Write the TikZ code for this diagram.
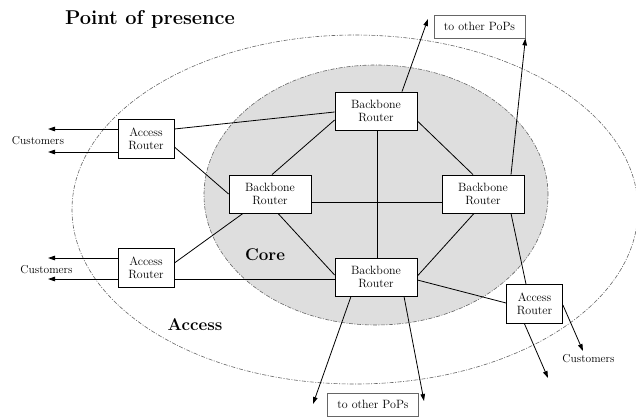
\documentclass[tikz,border=0pt]{standalone}
\usetikzlibrary{arrows.meta}
\begin{document}
\begin{tikzpicture}[x=1pt,y=-1pt,
  router/.style={draw=black,line width=0.8pt,fill=white,align=center,
    font=\fontsize{12}{13}\selectfont,inner sep=0pt},
  backbone/.style={router,minimum width=82pt,minimum height=38pt},
  access/.style={router,minimum width=56pt,minimum height=39pt},
  popbox/.style={router,draw=black!60,minimum width=91pt,minimum height=23pt},
  link/.style={line width=0.8pt},
  uplink/.style={line width=0.8pt,-{Triangle[length=7pt,width=4.5pt]}},
  caption/.style={font=\fontsize{11.5}{13}\selectfont},
  zone/.style={draw=black!60,line width=0.6pt,dash pattern=on 4pt off 1.5pt on 1pt off 1.5pt},
  area/.style={font=\fontsize{17}{20}\selectfont\bfseries}
]
\useasboundingbox (0,0) rectangle (636,418);
\fill[white] (0,0) rectangle (636,418);

% regions
\draw[zone] (355,209.5) ellipse [x radius=283pt, y radius=174.5pt];
\draw[zone,fill=black!13] (376,195) ellipse [x radius=172pt, y radius=130pt];

% region labels
\node[font=\fontsize{20}{24}\selectfont\bfseries] (title) at (150,19) {Point of presence};
\node[area] (core) at (265,255) {Core};
\node[area] (access) at (195,325) {Access};

% routers
\node[backbone] (bbT) at (376,111) {Backbone\\Router};
\node[backbone] (bbL) at (270,194) {Backbone\\Router};
\node[backbone] (bbR) at (483,194) {Backbone\\Router};
\node[backbone] (bbB) at (376,277) {Backbone\\Router};
\node[access] (arTL) at (146,138.5) {Access\\Router};
\node[access] (arBL) at (146,267.5) {Access\\Router};
\node[access] (arBR) at (534.5,304) {Access\\Router};

% external destinations
\node[popbox] (popT) at (479.5,26.5) {to other PoPs};
\node[popbox] (popB) at (373,404.5) {to other PoPs};
\node[caption] (custTL) at (38,141) {Customers};
\node[caption] (custBL) at (46.5,270) {Customers};
\node[caption] (custBR) at (588.5,359) {Customers};

% free ends of the outgoing arrows
\coordinate (tTL1) at (48,129);
\coordinate (tTL2) at (48,152);
\coordinate (tBL1) at (48,258);
\coordinate (tBL2) at (48,279);
\coordinate (tBR1) at (583,351);
\coordinate (tBR2) at (548,378);
\coordinate (tB1) at (313,404);
\coordinate (tB2) at (424,401);
\coordinate (tT1) at (428,19);

% core mesh
\draw[link] ([xshift=2pt]bbL.north) -- ([yshift=-9pt]bbT.west);
\draw[link] ([yshift=-10pt]bbT.east) -- ([xshift=-10pt]bbR.north);
\draw[link] ([xshift=1pt]bbT.south) -- ([xshift=1pt]bbB.north);
\draw[link] ([yshift=-8pt]bbL.east) -- ([yshift=-8pt]bbR.west);
\draw[link] ([xshift=8pt]bbL.south) -- ([yshift=2pt]bbB.west);
\draw[link] ([yshift=1pt]bbB.east) -- ([xshift=-9pt]bbR.south);

% access uplinks
\draw[link] ([yshift=9.5pt]arTL.east) -- ([yshift=-1pt]bbT.west);
\draw[link] ([yshift=-8.5pt]arTL.east) -- (bbL.west);
\draw[link] ([yshift=4.5pt]arBL.east) -- ([xshift=-27pt]bbL.south);
\draw[link] ([yshift=-11.5pt]arBL.east) -- ([yshift=-2pt]bbB.west);
\draw[link] ([yshift=-3pt]bbB.east) -- ([yshift=1pt]arBR.west);
\draw[link] ([xshift=28pt]bbR.south) -- ([xshift=-8.5pt]arBR.north);

% links to customers
\draw[uplink] ([yshift=9.5pt]arTL.west) -- (tTL1);
\draw[uplink] ([yshift=-13.5pt]arTL.west) -- (tTL2);
\draw[uplink] ([yshift=9.5pt]arBL.west) -- (tBL1);
\draw[uplink] ([yshift=-11.5pt]arBL.west) -- (tBL2);
\draw[uplink] ([yshift=-1pt]arBR.east) -- (tBR1);
\draw[uplink] ([xshift=-10pt]arBR.south) -- (tBR2);

% links to other points of presence
\draw[uplink] ([xshift=26pt]bbT.north) -- (tT1);
\draw[uplink] ([xshift=28pt]bbR.north) -- (popT.south east);
\draw[uplink] ([xshift=-25pt]bbB.south) -- (tB1);
\draw[uplink] ([xshift=28pt]bbB.south) -- (tB2);
\end{tikzpicture}
\end{document}
